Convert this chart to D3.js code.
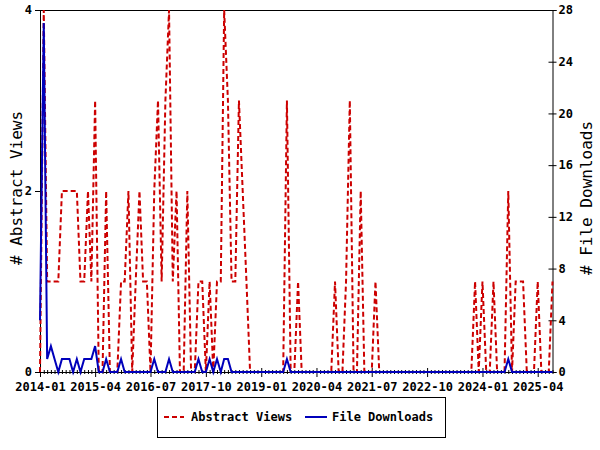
<!DOCTYPE html>
<html>
<head>
<meta charset="utf-8">
<script src="https://cdn.jsdelivr.net/npm/d3@7"></script>
<style>
  html, body { margin: 0; padding: 0; background: #fff; }
  svg { display: block; }
  text { font-family: "DejaVu Sans Mono", monospace; }
</style>
</head>
<body>
<svg id="chart" width="600" height="450"></svg>
<script>
// ---- data ----
const firstMonth = "2014-01";
const lastMonth = "2025-08";
const abstractViews = [
  0,4,1,1,1,1,2,2,2,2, 2,1,1,2,1,3,0,0,2,0,
  0,0,1,1,2,0,1,2,1,1, 0,2,3,1,3,4,1,2,0,0,
  2,0,0,1,1,0,1,0,1,1, 4,3,1,1,3,2,1,0,0,0,
  0,0,0,0,0,0,0,3,0,0, 1,0,0,0,0,0,0,0,0,0,
  1,0,0,1,3,0,0,2,0,0, 0,1,0,0,0,0,0,0,0,0,
  0,0,0,0,0,0,0,0,0,0, 0,0,0,0,0,0,0,0,1,0,
  1,0,0,1,0,0,0,2,0,1, 1,1,0,0,0,1,0,0,0,1
];
const fileDownloads = [
  4,27,1,2,1,0,1,1,1,0, 1,0,1,1,1,2,0,0,1,0,
  0,0,1,0,0,0,0,0,0,0, 0,1,0,0,0,1,0,0,0,0,
  0,0,0,1,0,0,1,0,1,0, 1,1,0,0,0,0,0,0,0,0,
  0,0,0,0,0,0,0,1,0,0, 0,0,0,0,0,0,0,0,0,0,
  0,0,0,0,0,0,0,0,0,0, 0,0,0,0,0,0,0,0,0,0,
  0,0,0,0,0,0,0,0,0,0, 0,0,0,0,0,0,0,0,0,0,
  0,0,0,0,0,0,0,1,0,0, 0,0,0,0,0,0,0,0,0,0
];
const xTickLabels = ["2014-01","2015-04","2016-07","2017-10","2019-01","2020-04","2021-07","2022-10","2024-01","2025-04"];
const leftTicks = [0, 2, 4];
const rightTicks = [0, 4, 8, 12, 16, 20, 24, 28];
const seriesNames = ["Abstract Views", "File Downloads"];

// ---- layout ----
const svg = d3.select("#chart");
const L = 40, R = 552.5, T = 10, B = 372;
const RED = "#cc0000", BLUE = "#0000bb";
const parseM = d3.timeParse("%Y-%m");
const months = d3.timeMonth.range(parseM(firstMonth), d3.timeMonth.offset(parseM(lastMonth), 1));

const x = d3.scaleTime().domain([parseM(firstMonth), parseM(lastMonth)]).range([L, R]);
const yL = d3.scaleLinear().domain([0, 4]).range([B, T]);
const yR = d3.scaleLinear().domain([0, 28]).range([B, T]);

svg.append("rect").attr("width", 600).attr("height", 450).attr("fill", "#fff");

// frame: top line
svg.append("line").attr("x1", L).attr("x2", R).attr("y1", T + 0.5).attr("y2", T + 0.5)
  .attr("stroke", "#000").attr("stroke-width", 1);

// left axis
const gl = svg.append("g").attr("transform", `translate(${L},0)`)
  .call(d3.axisLeft(yL).tickValues(leftTicks).tickSize(5).tickPadding(3).tickFormat(d3.format("d")));
gl.select(".domain").attr("stroke", "#000");
gl.selectAll("text").attr("font-size", "12px").attr("font-weight", "bold").attr("fill", "#000");

// right axis
const gr = svg.append("g").attr("transform", `translate(${R},0)`)
  .call(d3.axisRight(yR).tickValues(rightTicks).tickSize(4).tickPadding(2).tickFormat(d3.format("d")));
gr.selectAll(".tick line").attr("x1", -4).attr("x2", 4);
gr.selectAll("text").attr("font-size", "12px").attr("font-weight", "bold").attr("fill", "#000");

// bottom axis
const majorSet = new Set(xTickLabels);
const fmt = d3.timeFormat("%Y-%m");
const gb = svg.append("g").attr("transform", `translate(0,${B})`)
  .call(d3.axisBottom(x).tickValues(months).tickSize(2)
    .tickFormat(d => majorSet.has(fmt(d)) ? fmt(d) : ""));
gb.select(".domain").remove();
gb.append("line").attr("x1", L).attr("x2", R).attr("y1", 0.5).attr("y2", 0.5).attr("stroke", "#000");
gb.selectAll(".tick line")
  .attr("y1", d => majorSet.has(fmt(d)) ? -4 : -2)
  .attr("y2", d => majorSet.has(fmt(d)) ? 5 : 2);
gb.selectAll("text").attr("font-size", "12px").attr("font-weight", "bold").attr("fill", "#000")
  .attr("y", 8).attr("dy", "0.95em");

// axis titles
svg.append("text").attr("transform", `translate(22,188) rotate(-90)`)
  .attr("text-anchor", "middle").attr("font-size", "16px").text("# " + seriesNames[0]);
svg.append("text").attr("transform", `translate(592,198) rotate(-90)`)
  .attr("text-anchor", "middle").attr("font-size", "16px").text("# " + seriesNames[1]);

// lines
const redLine = d3.line().x((d, i) => x(months[i])).y(d => yL(d));
const blueLine = d3.line().x((d, i) => x(months[i])).y(d => yR(d));
svg.append("path").datum(abstractViews).attr("d", redLine).attr("fill", "none")
  .attr("stroke", RED).attr("stroke-width", 2).attr("stroke-dasharray", "5,3");
svg.append("path").datum(fileDownloads).attr("d", blueLine).attr("fill", "none")
  .attr("stroke", BLUE).attr("stroke-width", 2);

// legend
const lg = svg.append("g");
lg.append("rect").attr("x", 157.5).attr("y", 397.5).attr("width", 288).attr("height", 40)
  .attr("fill", "#fff").attr("stroke", "#000");
lg.append("line").attr("x1", 164).attr("x2", 184).attr("y1", 417).attr("y2", 417)
  .attr("stroke", RED).attr("stroke-width", 2).attr("stroke-dasharray", "5,3");
lg.append("text").attr("x", 191).attr("y", 421).attr("font-size", "12px").attr("font-weight", "bold").text(seriesNames[0]);
lg.append("line").attr("x1", 305).attr("x2", 327).attr("y1", 417).attr("y2", 417)
  .attr("stroke", BLUE).attr("stroke-width", 2);
lg.append("text").attr("x", 332).attr("y", 421).attr("font-size", "12px").attr("font-weight", "bold").text(seriesNames[1]);
</script>
</body>
</html>
